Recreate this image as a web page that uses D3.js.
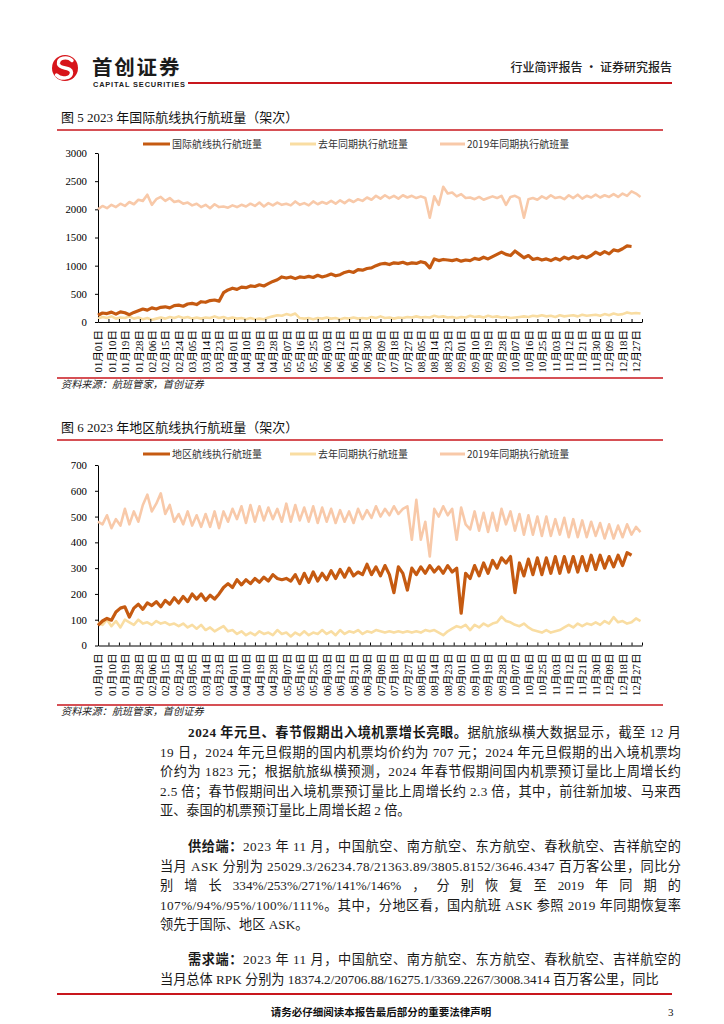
<!DOCTYPE html>
<html><head><meta charset="utf-8">
<script src="https://cdn.jsdelivr.net/npm/d3@7/dist/d3.min.js"></script>
<style>
body{margin:0;background:#fff;}
svg{display:block;}
</style></head>
<body>
<svg id="page" width="724" height="1024"></svg>
<script>
// ---------------- DATA ----------------
const sampleStepDays = 3; // values below are every 3 days from 2023-01-01
const tickLabels = ["01月01日","01月10日","01月19日","01月28日","02月06日","02月15日","02月24日","03月05日","03月14日","03月23日","04月01日","04月10日","04月19日","04月28日","05月07日","05月16日","05月25日","06月03日","06月12日","06月21日","06月30日","07月09日","07月18日","07月27日","08月05日","08月14日","08月23日","09月01日","09月10日","09月19日","09月28日","10月07日","10月16日","10月25日","11月03日","11月12日","11月21日","11月30日","12月09日","12月18日","12月27日"];

const intlCurrent = [
 120,160,150,175,140,180,165,130,170,200,
 230,210,250,230,260,270,250,290,300,280,
 320,330,310,360,350,380,390,370,520,570,
 600,580,620,610,640,630,660,640,680,720,
 750,800,780,800,770,800,790,810,790,830,
 800,820,850,820,840,880,900,880,930,920,
 950,960,1000,1030,1040,1020,1050,1040,1060,1030,
 1050,1040,1070,1050,960,1120,1090,1110,1100,1090,
 1110,1080,1100,1090,1130,1110,1150,1120,1160,1200,
 1240,1200,1180,1260,1200,1140,1180,1110,1130,1100,
 1120,1090,1130,1100,1150,1120,1160,1130,1170,1140,
 1180,1240,1200,1250,1210,1280,1260,1300,1350,1340];
const intlLastYear = [
 60,90,70,100,60,80,70,100,60,80,
 50,70,40,60,80,60,90,70,100,70,
 90,60,80,60,80,70,100,70,90,60,
 80,60,70,50,70,50,60,50,80,100,
 120,110,140,120,150,70,60,70,50,70,
 60,80,60,70,50,70,60,80,60,70,
 60,90,70,100,70,80,60,80,70,90,
 80,100,80,90,80,110,90,100,80,90,
 70,90,80,110,90,100,80,110,90,100,
 80,90,70,80,90,100,90,110,100,120,
 100,110,90,120,100,110,120,100,130,110,
 120,130,110,140,120,150,130,140,170,150,
 160,150];
const intl2019 = [
 2000,2060,2020,2080,2040,2100,2060,2130,2090,2170,
 2150,2260,2080,2180,2220,2150,2200,2130,2150,2100,
 2120,2070,2100,2040,2080,2020,2090,2040,2050,2030,
 2070,2040,2080,2050,2100,2060,2120,2050,2110,2070,
 2120,2080,2100,2070,2140,2080,2110,2070,2140,2090,
 2130,2100,2150,2100,2160,2110,2170,2130,2180,2150,
 2210,2170,2240,2190,2250,2200,2240,2190,2250,2210,
 2240,2200,2230,2200,1850,2230,2080,2400,2280,2300,
 2230,2270,2200,2210,2180,2220,2170,2200,2230,2200,
 2240,2080,2220,2240,2200,1850,2180,2200,2170,2230,
 2190,2250,2200,2220,2180,2250,2200,2260,2190,2240,
 2210,2260,2210,2250,2220,2270,2220,2280,2240,2320,
 2280,2220];

const regCurrent = [
 78,95,105,98,130,145,150,110,145,160,
 140,165,155,170,150,175,160,185,165,190,
 170,200,180,200,175,195,180,200,225,240,
 225,255,235,255,240,260,245,265,250,275,
 260,255,260,250,275,240,280,245,285,250,
 280,255,290,260,295,265,300,270,285,275,
 315,275,305,270,310,275,205,305,280,215,
 300,275,305,280,310,285,305,280,310,285,
 300,125,280,260,310,270,320,280,330,300,
 340,320,345,205,320,270,335,275,340,275,
 340,280,345,280,345,285,345,285,345,290,
 350,295,350,300,345,305,350,310,360,350];
const regLastYear = [
 90,80,100,75,95,70,100,90,80,100,
 85,90,80,95,85,90,80,85,75,85,
 70,80,65,80,60,70,55,65,75,55,
 60,45,55,40,50,40,55,45,50,40,
 60,45,50,35,50,40,55,40,50,45,
 60,45,55,40,60,45,55,50,60,45,
 55,50,60,55,50,55,50,55,50,55,
 50,55,50,60,55,60,50,40,55,65,
 75,70,80,60,80,70,85,75,85,90,
 112,95,90,80,75,85,70,60,55,50,
 60,50,55,60,70,80,70,85,75,85,
 80,90,80,95,85,110,90,95,85,90,
 105,95];
const reg2019 = [
 480,470,505,455,490,465,530,470,520,480,
 545,585,520,550,590,510,545,480,510,470,
 520,465,505,460,510,460,520,455,520,480,
 530,490,540,475,545,480,540,485,535,490,
 530,480,550,480,545,485,535,480,540,475,
 535,480,530,475,525,480,520,475,530,490,
 525,495,540,500,530,505,540,510,530,540,
 410,565,410,480,345,530,500,540,505,530,
 410,535,470,450,520,445,515,440,515,445,
 530,470,520,445,510,430,505,430,500,425,
 500,425,490,430,495,420,490,420,485,420,
 480,425,475,415,470,415,465,420,470,430,
 460,440];

const intlLegend = ["国际航线执行航班量","去年同期执行航班量","2019年同期执行航班量"];
const regLegend  = ["地区航线执行航班量","去年同期执行航班量","2019年同期执行航班量"];
const intlYTicks = [0,500,1000,1500,2000,2500,3000];
const regYTicks  = [0,100,200,300,400,500,600,700];

const paragraphs = [
 [[["2024 年元旦、春节假期出入境机票增长亮眼。",1],["据航旅纵横大数据显示，截至 12 月",0]],
  [["19 日，2024 年元旦假期的国内机票均价约为 707 元；2024 年元旦假期的出入境机票均",0]],
  [["价约为 1823 元；根据航旅纵横预测，2024 年春节假期间国内机票预订量比上周增长约",0]],
  [["2.5 倍；春节假期间出入境机票预订量比上周增长约 2.3 倍，其中，前往新加坡、马来西",0]],
  [["亚、泰国的机票预订量比上周增长超 2 倍。",0]]],
 [[["供给端：",1],["2023 年 11 月，中国航空、南方航空、东方航空、春秋航空、吉祥航空的",0]],
  [["当月 ASK 分别为 25029.3/26234.78/21363.89/3805.8152/3646.4347 百万客公里，同比分",0]],
  [["别 增 长 334%/253%/271%/141%/146% ， 分 别 恢 复 至 2019 年 同 期 的",0]],
  [["107%/94%/95%/100%/111%。其中，分地区看，国内航班 ASK 参照 2019 年同期恢复率",0]],
  [["领先于国际、地区 ASK。",0]]],
 [[["需求端：",1],["2023 年 11 月，中国航空、南方航空、东方航空、春秋航空、吉祥航空的",0]],
  [["当月总体 RPK 分别为 18374.2/20706.88/16275.1/3369.2267/3008.3414 百万客公里，同比",0]]]
];

// ---------------- DRAW ----------------
const svg = d3.select("#page");
const RED = "#C8161D";
const FONT = "'Liberation Serif','Noto Sans CJK SC',serif";
const SANS = "'Noto Sans CJK SC',sans-serif";
const C_MAIN = "#C55A11", C_LY = "#F9DDA2", C_19 = "#F8C9A9";

// header
const hdr = svg.append("g");
hdr.append("circle").attr("cx",65).attr("cy",68).attr("r",13).attr("fill","#D7141A");
hdr.append("path").attr("d","M72,60.5 C67.5,56 57.5,57.5 58.5,64 C59.5,69.5 71.5,66.5 71.5,72.5 C71.5,78.5 61,80 56.5,75")
  .attr("fill","none").attr("stroke","#fff").attr("stroke-width",3.4).attr("stroke-linecap","round");
hdr.append("text").attr("x",92).attr("y",75).attr("font-family",SANS).attr("font-weight",700)
  .attr("font-size",20.5).attr("letter-spacing",1.8).attr("fill","#1b1b1b").text("首创证券");
hdr.append("text").attr("x",93).attr("y",86.5).attr("font-family","'Liberation Sans',Arial,sans-serif").attr("font-weight",700)
  .attr("font-size",7.4).attr("textLength",92).attr("fill","#1b1b1b").text("CAPITAL SECURITIES");
hdr.append("line").attr("x1",188).attr("x2",672).attr("y1",83).attr("y2",83).attr("stroke",RED).attr("stroke-width",2);
hdr.append("text").attr("x",672).attr("y",72).attr("text-anchor","end").attr("font-family",SANS)
  .attr("font-size",12).attr("font-weight",500).attr("fill","#222").text("行业简评报告 · 证券研究报告");

const x = d3.scaleTime().domain([new Date(2023,0,1), new Date(2023,11,31)]).range([98,642]);
const sampleDate = i => new Date(2023,0,1 + i*sampleStepDays);
const labelDates = tickLabels.map(s => new Date(2023, +s.slice(0,2)-1, +s.slice(3,5)));
const weekDates = d3.range(0, 365, 7).map(d => new Date(2023,0,1+d));

function drawChart(cfg){
  const g = svg.append("g");
  g.append("text").attr("x",61).attr("y",cfg.titleY).attr("font-family",FONT).attr("font-size",13)
    .attr("fill","#111").text(cfg.title);
  g.append("line").attr("x1",57).attr("x2",663).attr("y1",cfg.titleLineY).attr("y2",cfg.titleLineY)
    .attr("stroke",RED).attr("stroke-width",1.4);

  const y = d3.scaleLinear().domain([0,cfg.max]).range([cfg.bottom,cfg.top]);

  // legend
  const legX = [[143,170,172],[290,316,318],[440,465,467]];
  const legC = [C_MAIN,C_LY,C_19];
  cfg.legend.forEach((t,i)=>{
    g.append("line").attr("x1",legX[i][0]).attr("x2",legX[i][1]).attr("y1",cfg.legendY).attr("y2",cfg.legendY)
      .attr("stroke",legC[i]).attr("stroke-width",3);
    g.append("text").attr("x",legX[i][2]).attr("y",cfg.legendY+3.6).attr("font-family",SANS)
      .attr("font-size",10).attr("fill","#333").text(t);
  });

  // y axis
  const ya = g.append("g").attr("transform",`translate(98,0)`)
    .call(d3.axisLeft(y).tickValues(cfg.yTicks).tickSize(3).tickSizeOuter(0).tickPadding(8).tickFormat(d3.format("d")));
  ya.selectAll("text").attr("font-family",FONT).attr("font-size",10.8).attr("fill","#000");
  ya.selectAll("line,path").attr("stroke","#000");

  // lines
  const line = d3.line().x((d,i)=>x(sampleDate(i))).y(d=>y(d)).curve(d3.curveLinear);
  [[cfg.s19,C_19,2.6],[cfg.sLY,C_LY,2.6],[cfg.sCur,C_MAIN,3.2]].forEach(([s,c,w])=>{
    g.append("path").datum(s).attr("d",line).attr("fill","none").attr("stroke",c)
      .attr("stroke-width",w).attr("stroke-linejoin","round");
  });

  // x axis ticks (weekly, inward)
  const xa = g.append("g").attr("transform",`translate(0,${cfg.bottom})`)
    .call(d3.axisBottom(x).tickValues(weekDates).tickSize(-3).tickSizeOuter(0).tickFormat(""));
  xa.selectAll("line,path").attr("stroke","#000");
  // x labels
  const xl = g.append("g").attr("transform",`translate(0,${cfg.bottom})`)
    .call(d3.axisBottom(x).tickValues(labelDates).tickSize(0).tickFormat((d,i)=>tickLabels[i]));
  xl.select(".domain").remove();
  xl.selectAll("text").attr("transform","rotate(-90)").attr("x",-8).attr("y",0).attr("dy","0.35em")
    .style("text-anchor","end").attr("font-family",FONT).attr("font-size",10.6).attr("fill","#000");

  // source
  g.append("line").attr("x1",57).attr("x2",663).attr("y1",cfg.srcLineY).attr("y2",cfg.srcLineY)
    .attr("stroke",RED).attr("stroke-width",1.4);
  g.append("text").attr("x",61).attr("y",cfg.srcLineY+10).attr("font-family",SANS).attr("font-style","italic")
    .attr("font-size",10.2).attr("fill","#222").text("资料来源：航班管家，首创证券");
}

drawChart({title:"图 5 2023 年国际航线执行航班量（架次）",titleY:122,titleLineY:130,legendY:144,
  top:153,bottom:322,max:3000,yTicks:intlYTicks,legend:intlLegend,
  sCur:intlCurrent,sLY:intlLastYear,s19:intl2019,srcLineY:378});
drawChart({title:"图 6 2023 年地区航线执行航班量（架次）",titleY:432,titleLineY:440,legendY:454,
  top:465,bottom:645.5,max:700,yTicks:regYTicks,legend:regLegend,
  sCur:regCurrent,sLY:regLastYear,s19:reg2019,srcLineY:705});

// paragraphs
const textLeft = 160, textRight = 681, indent = 28, lineH = 19.6;
const paraStartY = [737, 851, 964];
paragraphs.forEach((para,pi)=>{
  para.forEach((segs,li)=>{
    const xs = textLeft + (li===0?indent:0);
    const t = svg.append("text").attr("x",xs).attr("y",paraStartY[pi]+li*lineH)
      .attr("font-family",FONT).attr("font-size",13.2).attr("fill","#1a1a1a");
    segs.forEach(([s,b])=>{
      const ts = t.append("tspan").text(s);
      if(b){ ts.attr("font-weight",700); }
    });
    const last = li===para.length-1;
    if(!last){
      const w = t.node().getComputedTextLength();
      const full = segs.map(d=>d[0]).join("");
      const target = textRight - xs;
      if(full.includes(" 增 长")){
        const nsp = (full.match(/ /g)||[]).length;
        t.attr("word-spacing",(target-w)/nsp);
      } else {
        t.attr("letter-spacing",(target-w)/(full.length-1));
      }
    }
  });
});

// footer
svg.append("line").attr("x1",57).attr("x2",672).attr("y1",994).attr("y2",994).attr("stroke",RED).attr("stroke-width",2);
svg.append("text").attr("x",381).attr("y",1016).attr("text-anchor","middle").attr("font-family",SANS)
  .attr("font-weight",700).attr("font-size",10.5).attr("fill","#111").text("请务必仔细阅读本报告最后部分的重要法律声明");
svg.append("text").attr("x",668).attr("y",1016).attr("font-family",FONT).attr("font-size",11).attr("fill","#111").text("3");
</script>
</body></html>
